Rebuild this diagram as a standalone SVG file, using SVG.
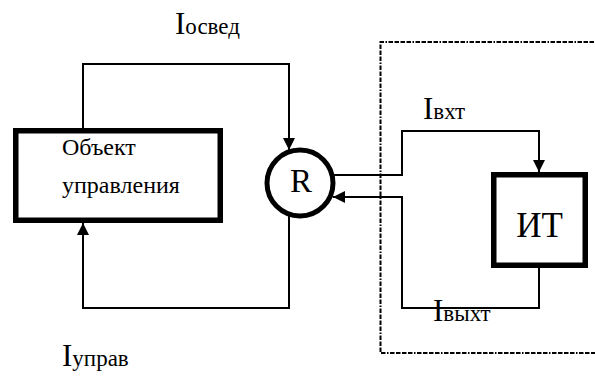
<svg xmlns="http://www.w3.org/2000/svg" width="595" height="376" viewBox="0 0 595 376">
<defs>
<style>
.box{fill:#fff;stroke:#000;stroke-width:5.5}
.ln{fill:none;stroke:#000;stroke-width:2}
.t{font-family:'Liberation Serif','Times New Roman',serif;fill:#000}
.big{font-size:31px}
.sub{font-size:23px}
.frame{fill:none;stroke:#000;stroke-width:2;stroke-dasharray:4.5 1.5 4.5 1.5 4.5 1.5 4.5 1.5 1.5 1.5}
</style>
<marker id="ah" viewBox="0 0 12 12" refX="12" refY="6" markerWidth="12" markerHeight="12" markerUnits="userSpaceOnUse" orient="auto">
<path d="M0,0 L12,6 L0,12 Z" fill="#000"/>
</marker>
</defs>
<rect width="595" height="376" fill="#fff"/>
<g id="frame">
<path class="frame" d="M600,42 H380.5 V353 H600"/>
</g>
<g id="connectors">
<path class="ln" d="M83,128 V64 H289 V150" marker-end="url(#ah)"/>
<path class="ln" d="M289,216 V308 H83 V223" marker-end="url(#ah)"/>
<path class="ln" d="M334,175 H402 V131 H539 V172" marker-end="url(#ah)"/>
<path class="ln" d="M539,268 V308 H402 V197 H333" marker-end="url(#ah)"/>
</g>
<g id="object">
<rect class="box" x="15.75" y="130.75" width="204.5" height="89.5"/>
<text class="t" x="62" y="155" font-size="24">Объект</text>
<text class="t" x="62" y="193" font-size="24">управления</text>
</g>
<g id="R">
<circle cx="300" cy="183" r="33" fill="#fff" stroke="#000" stroke-width="5"/>
<text class="t" x="301" y="192" font-size="33" text-anchor="middle">R</text>
</g>
<g id="IT">
<rect class="box" x="493.75" y="174.75" width="91.5" height="90.5"/>
<text class="t" x="539.5" y="237" font-size="35" text-anchor="middle">ИТ</text>
</g>
<g id="labels">
<text class="t" x="175" y="34"><tspan class="big">I</tspan><tspan class="sub">освед</tspan></text>
<text class="t" x="423" y="119"><tspan class="big">I</tspan><tspan class="sub">вхт</tspan></text>
<text class="t" x="433" y="321"><tspan class="big">I</tspan><tspan class="sub">выхт</tspan></text>
<text class="t" x="62" y="366"><tspan class="big">I</tspan><tspan class="sub">управ</tspan></text>
</g>
</svg>
